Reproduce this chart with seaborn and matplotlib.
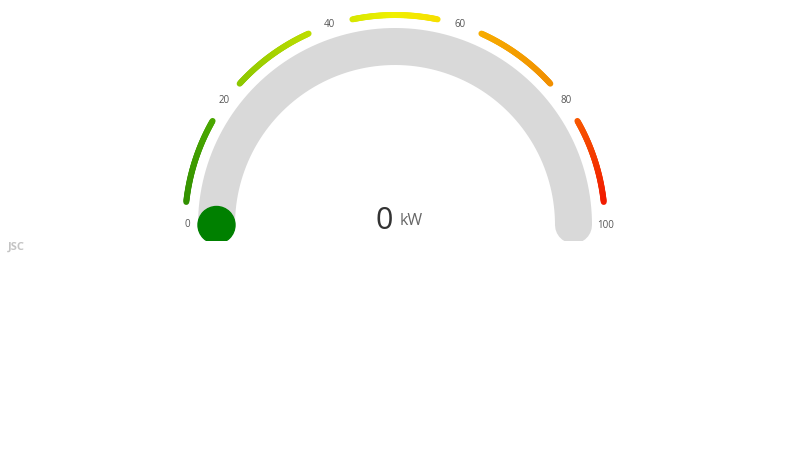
import numpy as np
import pandas as pd
import seaborn as sns
import matplotlib.pyplot as plt
from matplotlib.collections import LineCollection
from matplotlib.colors import LinearSegmentedColormap
from matplotlib.patches import Circle, Rectangle

# 数据
gauge_min, gauge_max = 0, 100
value = 0
unit = 'kW'
tick_values = [0, 20, 40, 60, 80, 100]
range_starts = [3.5, 23.5, 43.5, 63.5, 83.5]
range_ends = [16.5, 36.5, 56.5, 76.5, 96.5]
grad_pos = [0, 17, 22, 40, 50, 58, 62, 78, 82, 98, 100]
grad_colors = ['#2a8a00', '#4ca800', '#86c400', '#c8e200', '#f0f000', '#f8dc00',
               '#f8b000', '#f08c00', '#f86000', '#f01400', '#f01000']

sns.set_theme(style='white')
plt.rcParams['font.family'] = ['Open Sans', 'DejaVu Sans']

# 几何(像素坐标)
cx, cy = 395, 225
r_band, band_w = 178.5, 37
r_ring, r_label = 210, 211
px = 72 / 100  # 像素 -> 点


def to_xy(v, r):
    ang = np.pi * (1 - (np.asarray(v, float) - gauge_min) / (gauge_max - gauge_min))
    return cx + r * np.cos(ang), cy - r * np.sin(ang)


fig = plt.figure(figsize=(8, 4.5), dpi=100)
ax = fig.add_axes([0, 0, 1, 1])
ax.set_xlim(0, 800)
ax.set_ylim(450, 0)
ax.axis('off')

clip = Rectangle((0, 0), 800, 241, transform=ax.transData)

# 灰色底带
vs = np.linspace(gauge_min, gauge_max, 300)
bx, by = to_xy(vs, r_band)
band = pd.DataFrame({'x': bx, 'y': by})
sns.lineplot(data=band, x='x', y='y', sort=False, color='#d9d9d9',
             lw=band_w * px, solid_capstyle='round', ax=ax, zorder=1)
ax.lines[-1].set_clip_path(clip)

# 彩色分段外环
cmap = LinearSegmentedColormap.from_list(
    'g', list(zip(np.array(grad_pos) / 100, grad_colors)))
for s, e in zip(range_starts, range_ends):
    v = np.linspace(s, e, 60)
    x, y = to_xy(v, r_ring)
    pts = np.column_stack([x, y]).reshape(-1, 1, 2)
    segs = np.concatenate([pts[:-1], pts[1:]], axis=1)
    lc = LineCollection(segs, colors=cmap((v[:-1] + v[1:]) / 200),
                        linewidths=6 * px, capstyle='round', zorder=2)
    ax.add_collection(lc)

# 刻度标签
for t in tick_values:
    x, y = to_xy(t, r_label)
    ax.text(x + (3 if t == 0 else 0), y, str(t), ha='center', va='center',
            fontsize=7, color='#555555')

# 指针圆点
mx, my = to_xy(value, r_band)
dot = Circle((mx, my), band_w / 2, color='#008000', zorder=3)
ax.add_patch(dot)
dot.set_clip_path(clip)

# 中心数值
ax.text(393, 221, str(value), ha='right', va='center', fontsize=22, color='#333333')
ax.text(400, 221, unit, ha='left', va='center', fontsize=11.5, color='#666666')

# 水印
ax.text(8, 247, 'JSC', ha='left', va='center', fontsize=8, fontweight='bold',
        color='#c4c4c4')

fig.savefig('out.png', dpi=100)
